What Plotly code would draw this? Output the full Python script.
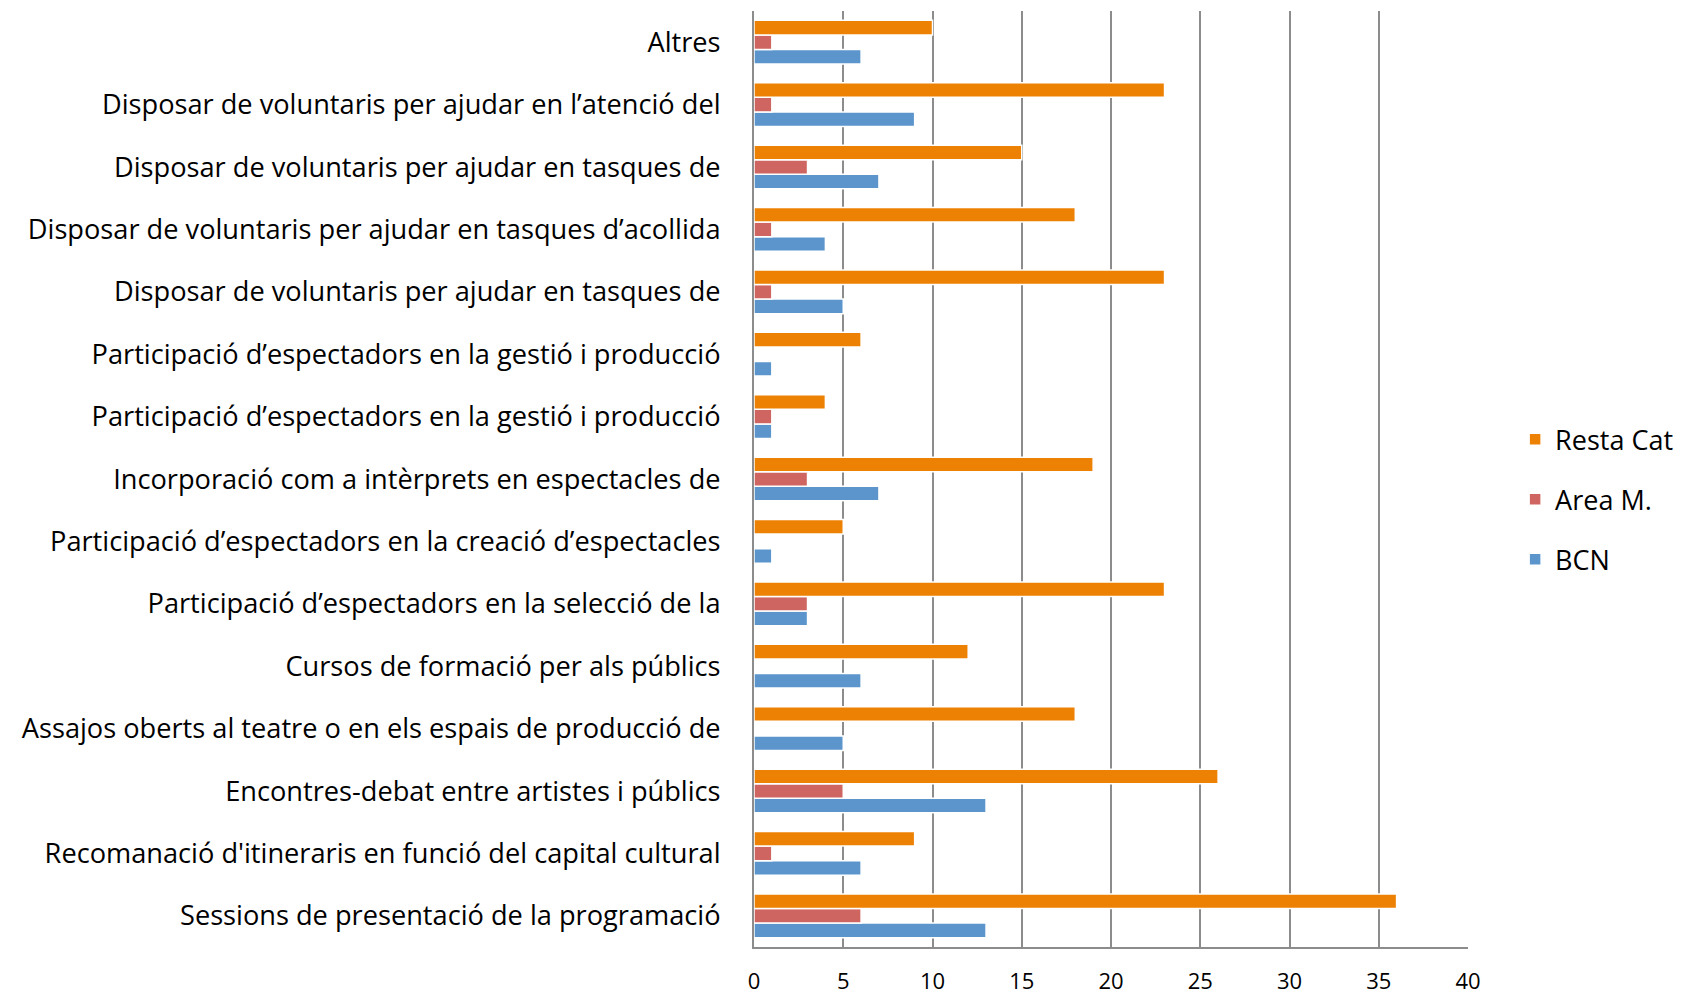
import plotly.graph_objects as go

categories = [
    "Sessions de presentació de la programació",
    "Recomanació d'itineraris en funció del capital cultural",
    "Encontres-debat entre artistes i públics",
    "Assajos oberts al teatre o en els espais de producció de",
    "Cursos de formació per als públics",
    "Participació d’espectadors en la selecció de la",
    "Participació d’espectadors en la creació d’espectacles",
    "Incorporació com a intèrprets en espectacles de",
    "Participació d’espectadors en la gestió i producció",
    "Participació d’espectadors en la gestió i producció",
    "Disposar de voluntaris per ajudar en tasques de",
    "Disposar de voluntaris per ajudar en tasques d’acollida",
    "Disposar de voluntaris per ajudar en tasques de",
    "Disposar de voluntaris per ajudar en l’atenció del",
    "Altres",
]
bcn = [13, 6, 13, 5, 6, 3, 1, 7, 1, 1, 5, 4, 7, 9, 6]
area_m = [6, 1, 5, 0, 0, 3, 0, 3, 1, 0, 1, 1, 3, 1, 1]
resta_cat = [36, 9, 26, 18, 12, 23, 5, 19, 4, 6, 23, 18, 15, 23, 10]
x_ticks = [0, 5, 10, 15, 20, 25, 30, 35, 40]

positions = list(range(len(categories)))
FONT = "Open Sans"

fig = go.Figure()
for rank, (name, vals, color) in enumerate([
    ("BCN", bcn, "#5b95cc"),
    ("Area M.", area_m, "#cf6560"),
    ("Resta Cat", resta_cat, "#ec8103"),
]):
    fig.add_trace(go.Bar(
        y=positions, x=vals, name=name, orientation="h",
        marker=dict(color=color, line=dict(color="white", width=1.5)),
        legendgroup=name, legendrank=1000 - rank,
    ))

fig.update_layout(
    barmode="group",
    bargap=0.3,
    bargroupgap=0,
    width=1684, height=995,
    paper_bgcolor="white", plot_bgcolor="white",
    margin=dict(l=746, r=224, t=3, b=56, autoexpand=False),
    font=dict(family=FONT, size=25, color="black"),
    legend=dict(
        traceorder="grouped",
        tracegroupgap=22,
        x=1.066, xanchor="left", xref="paper",
        y=0.478, yanchor="middle",
        font=dict(family=FONT, size=27, color="black"),
        itemwidth=30,
    ),
    showlegend=True,
)
fig.update_xaxes(
    range=[0, 40], tickvals=x_ticks, ticktext=[str(v) for v in x_ticks],
    showgrid=True, gridcolor="#8c8c8c", gridwidth=2,
    showline=True, linecolor="#8c8c8c", linewidth=2,
    zeroline=False, ticks="", ticklabelstandoff=14, automargin=False,
    tickfont=dict(family=FONT, size=22, color="black"),
)
fig.update_yaxes(
    range=[-0.5, len(categories) - 0.5],
    tickvals=positions, ticktext=categories,
    showgrid=False, showline=True, linecolor="#8c8c8c", linewidth=2,
    zeroline=False, ticks="", ticklabelstandoff=26, automargin=False,
    tickfont=dict(family=FONT, size=27.2, color="black"),
)

fig.write_html("out.html")
